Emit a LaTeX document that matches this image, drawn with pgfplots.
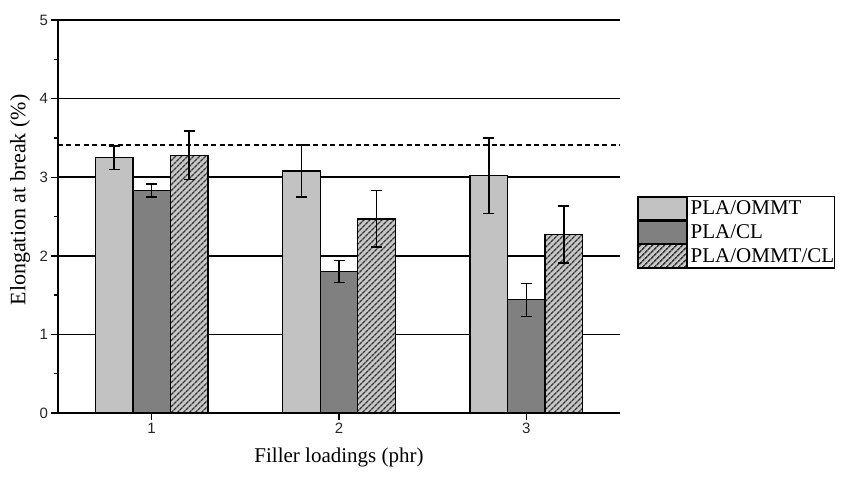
\documentclass[border=0pt]{standalone}
\usepackage{fontspec}
\setmainfont{Liberation Serif}
\newfontfamily\arial{Liberation Sans}
\usepackage{pgfplots}
\pgfplotsset{compat=1.18}
\usetikzlibrary{patterns.meta}

\definecolor{ommt}{RGB}{194,194,194}
\definecolor{cl}{RGB}{128,128,128}
\definecolor{hatchbg}{RGB}{200,200,200}
\definecolor{hatchfg}{RGB}{55,55,55}

\pgfplotsset{
  swatch/.style={
    legend image code/.code={
      \draw[##1, line width=1.2pt] (0pt,-11.3pt) rectangle (49pt,11.3pt);
      \path (52pt,0pt);
    }
  },
  % bars sit at their own x positions (category +- 0.2), so no bar shift
  barbase/.style={
    ybar, bar width=37.5pt, bar shift=0pt, draw=black, line width=1.3pt,
    error bars/y dir=both, error bars/y explicit,
    error bars/error bar style={line width=1.6pt, black},
    error bars/error mark options={rotate=90, line width=1.6pt, black, mark size=5.5pt},
  },
}

\begin{document}
\begin{tikzpicture}
\begin{axis}[
  at={(0pt,0pt)}, anchor=south west,
  scale only axis,
  width=562pt, height=393pt,
  xmin=0.5, xmax=3.5,
  ymin=0, ymax=5,
  axis x line*=bottom,
  axis y line*=left,
  axis line style={line width=1.5pt, black},
  xtick={1,2,3},
  ytick={0,1,2,3,4,5},
  minor y tick num=1,
  tick align=outside,
  major tick length=6.5pt,
  minor tick length=4pt,
  tick style={line width=1.4pt, black},
  ymajorgrids,
  major grid style={line width=1.5pt, black},
  /pgf/number format/assume math mode=true,
  tick label style={font=\arial\fontsize{15}{17}\selectfont, text=black!85},
  xlabel={Filler loadings (phr)},
  ylabel={Elongation at break (\%)},
  xlabel style={at={(axis description cs:0.5,-0.1132)}, anchor=center,
    font=\fontsize{21}{24}\selectfont},
  ylabel style={at={(axis description cs:-0.0676,0.542)}, anchor=center,
    font=\fontsize{22}{25}\selectfont},
  legend style={
    at={(axis description cs:1.030,0.552)}, anchor=north west,
    draw=black, line width=1.2pt, inner sep=0pt,
    nodes={inner sep=0pt, anchor=west},
    row sep=0pt,
    font=\fontsize{21}{24}\selectfont,
  },
  legend cell align=left,
]

% reference level of the unfilled polymer
\addplot[black, line width=1.5pt, dash pattern=on 5pt off 3.5pt, forget plot]
  coordinates {(0.5,3.41) (3.5,3.41)};

\addplot[barbase, swatch, fill=ommt]
  coordinates {
    (0.8,3.25) +- (0,0.15)
    (1.8,3.08) +- (0,0.33)
    (2.8,3.02) +- (0,0.48)
  };
\addlegendentry{PLA/OMMT}

\addplot[barbase, swatch, fill=cl]
  coordinates {
    (1,2.83) +- (0,0.08)
    (2,1.80) +- (0,0.14)
    (3,1.44) +- (0,0.21)
  };
\addlegendentry{PLA/CL}

\addplot[barbase, swatch, fill=hatchbg,
  postaction={pattern={Lines[angle=45,distance=4pt,line width=1.6pt]},
              pattern color=hatchfg}]
  coordinates {
    (1.2,3.28) +- (0,0.31)
    (2.2,2.47) +- (0,0.36)
    (3.2,2.27) +- (0,0.36)
  };
\addlegendentry{PLA/OMMT/CL\hspace{8pt}}

\node[anchor=base west, font=\fontsize{20}{22}\selectfont, inner sep=0pt]
  at (axis cs:3.5,3.41) [xshift=17pt, yshift=-9pt] {Neat PLA};
\end{axis}
\pgfresetboundingbox
\path[use as bounding box] (-58pt,-69pt) rectangle (785pt,413pt);
\end{tikzpicture}
\end{document}
